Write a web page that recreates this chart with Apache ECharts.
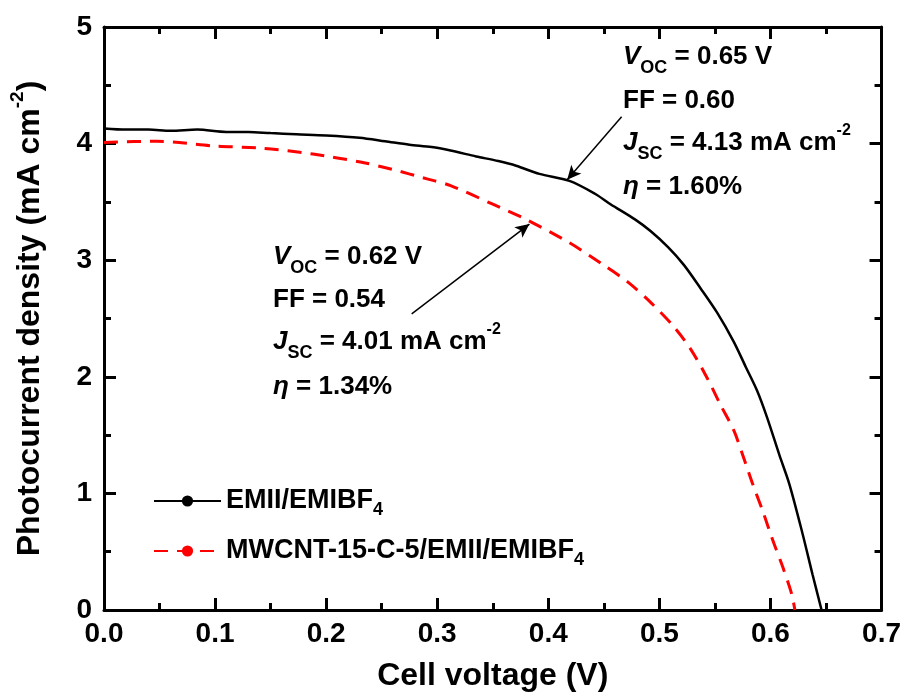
<!DOCTYPE html>
<html>
<head>
<meta charset="utf-8">
<script src="https://cdn.jsdelivr.net/npm/echarts@6/dist/echarts.min.js"></script>
<style>
  html, body { margin: 0; padding: 0; background: #fff; }
  #main { width: 904px; height: 697px; }
</style>
</head>
<body>
<div id="main"></div>
<script>
// EMII/EMIBF4 (black solid)
const voltageA = [0.000, 0.020, 0.040, 0.060, 0.084, 0.110, 0.130, 0.150, 0.173, 0.200, 0.230, 0.253, 0.275, 0.295, 0.312, 0.335, 0.355, 0.371, 0.392, 0.419, 0.442, 0.456, 0.478, 0.492, 0.508, 0.522, 0.537, 0.552, 0.567, 0.578, 0.588, 0.597, 0.608, 0.617, 0.629, 0.638, 0.646]
const currentA = [4.13, 4.12, 4.12, 4.11, 4.12, 4.10, 4.10, 4.09, 4.08, 4.07, 4.05, 4.02, 3.99, 3.97, 3.94, 3.89, 3.85, 3.81, 3.74, 3.68, 3.57, 3.48, 3.35, 3.25, 3.11, 2.96, 2.76, 2.55, 2.30, 2.08, 1.88, 1.65, 1.33, 1.08, 0.65, 0.30, 0.00]
// MWCNT-15-C-5/EMII/EMIBF4 (red dashed)
const voltageB = [0.000, 0.048, 0.099, 0.143, 0.188, 0.232, 0.259, 0.290, 0.312, 0.350, 0.380, 0.419, 0.448, 0.472, 0.493, 0.513, 0.528, 0.543, 0.555, 0.567, 0.575, 0.584, 0.593, 0.602, 0.611, 0.619, 0.622]
const currentB = [4.01, 4.02, 3.98, 3.96, 3.91, 3.84, 3.78, 3.70, 3.64, 3.48, 3.35, 3.15, 2.97, 2.81, 2.63, 2.43, 2.24, 1.99, 1.76, 1.54, 1.33, 1.08, 0.85, 0.60, 0.37, 0.14, 0.00]
const seriesNames = ['EMII/EMIBF4', 'MWCNT-15-C-5/EMII/EMIBF4']
// arrows: [from, to] in data units
const arrowA = [[0.466, 4.23], [0.417, 3.69]]
const arrowB = [[0.277, 2.54], [0.383, 3.31]]

const FONT = '"Liberation Sans", Arial, sans-serif'
const chart = echarts.init(document.getElementById('main'))

const zip = (xs, ys) => xs.map((x, i) => [x, ys[i]])

const annoRich = {
  n: { fontSize: 26, fontWeight: 'bold', fontFamily: FONT, lineHeight: 40, color: '#000' },
  i: { fontSize: 26, fontWeight: 'bold', fontStyle: 'italic', fontFamily: FONT, lineHeight: 40, color: '#000' },
  sub: { fontSize: 18, fontWeight: 'bold', fontFamily: FONT, lineHeight: 12, verticalAlign: 'bottom', color: '#000' },
  sup: { fontSize: 16, fontWeight: 'bold', fontFamily: FONT, lineHeight: 28, verticalAlign: 'top', color: '#000' }
}

function annoLines(x, ys, lines) {
  return lines.map((t, k) => ({
    type: 'text',
    x: x,
    y: ys[k],
    silent: true,
    style: {
      text: t,
      rich: annoRich,
      verticalAlign: 'middle',
      align: 'left'
    }
  }))
}

const axisCommon = {
  type: 'value',
  axisLine: { show: true, onZero: false, lineStyle: { color: '#000', width: 3 } },
  axisTick: { show: true, inside: true, length: 12, lineStyle: { color: '#000', width: 3 } },
  minorTick: { show: true, splitNumber: 2, length: 7, lineStyle: { color: '#000', width: 3 } },
  splitLine: { show: false }
}

const option = {
  backgroundColor: '#fff',
  animation: false,
  grid: { left: 96, right: 21, top: 27, bottom: 84, containLabel: false },
  legend: {
    orient: 'vertical',
    left: 148,
    top: 478,
    itemWidth: 67,
    itemHeight: 14,
    itemGap: 14,
    itemTextGap: 8,
    selectedMode: false,
    data: seriesNames,
    formatter: name => name.replace(/4$/, '{sub|4}'),
    textStyle: {
      fontSize: 27, fontWeight: 'bold', fontFamily: FONT, color: '#000', lineHeight: 36,
      rich: {
        sub: { fontSize: 18, fontWeight: 'bold', fontFamily: FONT, lineHeight: 8, verticalAlign: 'bottom', color: '#000' }
      }
    }
  },
  xAxis: [
    Object.assign({}, axisCommon, {
      min: 0, max: 0.7, interval: 0.1, position: 'bottom',
      name: 'Cell voltage (V)',
      nameLocation: 'middle',
      nameGap: 50,
      nameTextStyle: { fontSize: 32, fontWeight: 'bold', fontFamily: FONT, color: '#000' },
      axisLabel: { fontSize: 28, fontWeight: 'bold', fontFamily: FONT, color: '#000', margin: 10, formatter: v => v.toFixed(1) }
    }),
    Object.assign({}, axisCommon, {
      min: 0, max: 0.7, interval: 0.1, position: 'top',
      axisLabel: { show: false }
    })
  ],
  yAxis: [
    Object.assign({}, axisCommon, {
      min: 0, max: 5, interval: 1, position: 'left',
      name: 'Photocurrent density (mA cm{sup|-2})',
      nameLocation: 'middle',
      nameRotate: 90,
      nameGap: 52,
      nameTextStyle: {
        fontSize: 32, fontWeight: 'bold', fontFamily: FONT, color: '#000', lineHeight: 44,
        rich: {
          sup: { fontSize: 19, fontWeight: 'bold', fontFamily: FONT, lineHeight: 30, verticalAlign: 'top', color: '#000' }
        }
      },
      axisLabel: { fontSize: 28, fontWeight: 'bold', fontFamily: FONT, color: '#000', margin: 12 }
    }),
    Object.assign({}, axisCommon, {
      min: 0, max: 5, interval: 1, position: 'right',
      axisLabel: { show: false }
    })
  ],
  series: [
    {
      name: seriesNames[0],
      type: 'line',
      data: zip(voltageA, currentA),
      showSymbol: false,
      symbol: 'none',
      smooth: 0.3,
      lineStyle: { color: '#000', width: 2.5 },
      itemStyle: { color: '#000' },
      markLine: {
        silent: true,
        symbol: ['none', 'arrow'],
        symbolSize: [10, 14],
        label: { show: false },
        lineStyle: { color: '#000', width: 1.5, type: 'solid' },
        data: [[{ coord: arrowA[0] }, { coord: arrowA[1] }]]
      }
    },
    {
      name: seriesNames[1],
      type: 'line',
      data: zip(voltageB, currentB),
      showSymbol: false,
      symbol: 'none',
      smooth: 0.3,
      lineStyle: { color: '#ff0000', width: 3, type: [14, 9] },
      itemStyle: { color: '#ff0000' },
      markLine: {
        silent: true,
        symbol: ['none', 'arrow'],
        symbolSize: [10, 14],
        label: { show: false },
        lineStyle: { color: '#000', width: 1.5, type: 'solid' },
        data: [[{ coord: arrowB[0] }, { coord: arrowB[1] }]]
      }
    }
  ],
  graphic: [].concat(
    annoLines(623, [57, 101, 143, 187], [
      '{i|V}{sub|OC}{n| = 0.65 V}',
      '{n|FF = 0.60}',
      '{i|J}{sub|SC}{n| = 4.13 mA cm}{sup|-2}',
      '{i|η}{n| = 1.60%}'
    ]),
    annoLines(273, [257, 300, 342, 387], [
      '{i|V}{sub|OC}{n| = 0.62 V}',
      '{n|FF = 0.54}',
      '{i|J}{sub|SC}{n| = 4.01 mA cm}{sup|-2}',
      '{i|η}{n| = 1.34%}'
    ])
  )
}

chart.setOption(option)
</script>
</body>
</html>
